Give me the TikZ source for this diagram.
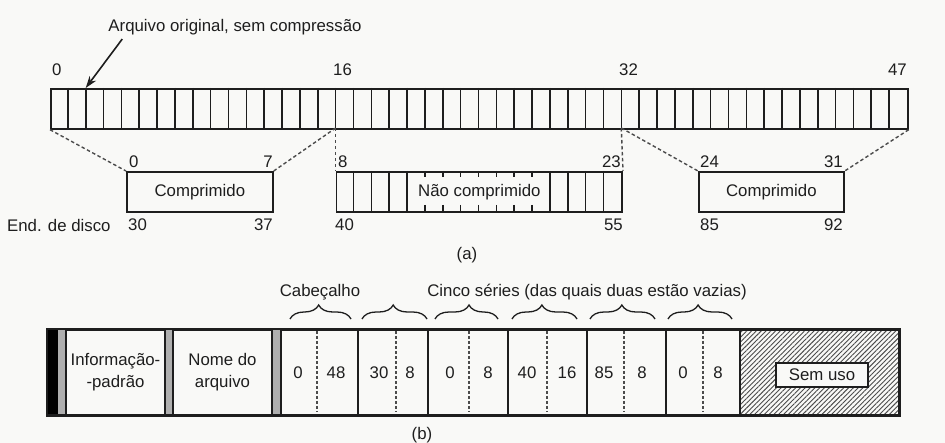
\documentclass[tikz,border=0pt]{standalone}
\usepackage{fontspec}
\setmainfont{Liberation Sans}
\usetikzlibrary{decorations.pathreplacing,patterns.meta,arrows.meta,calc}
\definecolor{bg}{RGB}{249,249,247}
\definecolor{ink}{RGB}{30,30,30}
\definecolor{bargray}{RGB}{175,175,175}
\definecolor{dashgray}{RGB}{75,75,75}
\begin{document}
\begin{tikzpicture}[x=1pt,y=-1pt,
  font=\fontsize{16.8}{21.5}\selectfont,
  lbl/.style={inner sep=0pt, text=ink},
  frame/.style={draw=ink, line width=1.7pt},
  boxnode/.style={draw=ink, line width=1.7pt, inner sep=0pt, minimum height=40pt, anchor=north west, text=ink},
  cellline/.style={draw=ink, line width=1.6pt},
  dconn/.style={draw=dashgray, line width=1.4pt, dash pattern=on 3.5pt off 2.5pt},
  ddiv/.style={draw=dashgray, line width=1.5pt, dash pattern=on 3pt off 2pt},
  bracestyle/.style={draw=ink, line width=1.3pt, decorate},
  arrowstyle/.style={draw=ink, line width=1.6pt, -{Stealth[length=12pt,width=8pt]}}
]
\useasboundingbox (0,0) rectangle (945,443);
\fill[bg] (0,0) rectangle (945,443);

% ---------- (a) ----------
\node[lbl] (title) at (235,27) {Arquivo original, sem compressão};
\node[boxnode, minimum width=857pt] (bar) at (50,88) {};
\foreach \i in {1,...,47} \draw[cellline] (50+\i*17.854,88) -- (50+\i*17.854,128);
\coordinate (t2) at (85.7,88);
\coordinate (b16) at (335.7,128);
\coordinate (b32) at (621.3,128);
\draw[arrowstyle] ($(title.south west)+(14,4)$) -- (t2);

\node[lbl, anchor=west] (n0) at (52,70) {0};
\node[lbl, anchor=west] (n16) at (333,70) {16};
\node[lbl, anchor=west] (n32) at (619,70) {32};
\node[lbl, anchor=east] (n47) at (907,70) {47};

\node[boxnode, minimum width=146pt] (comp1) at (126,171) {Comprimido};
\node[boxnode, minimum width=285.6pt] (unc) at (335.7,171) {Não comprimido};
\node[boxnode, minimum width=145pt] (comp2) at (698,171) {Comprimido};

\foreach \i in {1,2,3,4,12,13,14,15} \draw[cellline] (335.7+\i*17.85,171) -- (335.7+\i*17.85,211);
\foreach \i in {5,...,11} {
  \draw[cellline] (335.7+\i*17.85,171) -- (335.7+\i*17.85,177);
  \draw[cellline] (335.7+\i*17.85,205) -- (335.7+\i*17.85,211);
}

\draw[dconn] (bar.south west) -- (comp1.north west);
\draw[dconn] (b16) -- (comp1.north east);
\draw[dconn] (b16) -- (unc.north west);
\draw[dconn] (b32) -- (unc.north east);
\draw[dconn] (b32) -- (comp2.north west);
\draw[dconn] (bar.south east) -- (comp2.north east);

\node[lbl, anchor=west] (a0) at (129,162) {0};
\node[lbl, anchor=east] (a7) at (273,162) {7};
\node[lbl, anchor=west] (a30) at (128,225) {30};
\node[lbl, anchor=east] (a37) at (273,225) {37};
\node[lbl, anchor=west] (addr) at (7,225) {End. de disco};
\node[lbl, anchor=west] (a8) at (338,162) {8};
\node[lbl, anchor=east] (a23) at (621,162) {23};
\node[lbl, anchor=west] (a40) at (335,225) {40};
\node[lbl, anchor=east] (a55) at (623,225) {55};
\node[lbl, anchor=west] (a24) at (700,162) {24};
\node[lbl, anchor=east] (a31) at (843,162) {31};
\node[lbl, anchor=west] (a85) at (700,225) {85};
\node[lbl, anchor=east] (a92) at (843,225) {92};
\node[lbl] (capa) at (467,255) {(a)};

% ---------- (b) ----------
\fill[pattern={Lines[angle=45,distance=3.4pt,line width=0.9pt]}, pattern color=dashgray] (740,329) rectangle (898,414);
\node[boxnode, minimum width=851pt, minimum height=85pt] (rec) at (47,329) {};
\fill[black] (47,329) rectangle (58,414);
\fill[bargray] (58,329) rectangle (66,414);
\fill[bargray] (165,329) rectangle (173,414);
\fill[bargray] (272,329) rectangle (281,414);
\foreach \x in {66,165,173,272,281,358,428,508,587,666,740} \draw[cellline] (\x,329) -- (\x,414);
\draw[frame] (rec.north west) rectangle (rec.south east);
\foreach \x in {317,396,469,547,624,703} \draw[ddiv] (\x,331) -- (\x,412);

\node[lbl, align=center] (info) at (115.5,372) {Informação-\\-padrão};
\node[lbl, align=center] (fname) at (222.5,372) {Nome do\\arquivo};

\foreach \x/\t/\n in {298/0/v1, 336/48/v2, 379/30/v3, 410/8/v4, 450/0/v5, 488/8/v6, 527/40/v7, 567/16/v8, 604/85/v9, 642/8/v10, 683/0/v11, 718/8/v12}
  \node[lbl] (\n) at (\x,373) {\t};

\node[draw=ink, line width=1.6pt, fill=bg, minimum width=92pt, minimum height=24pt, inner sep=0pt, text=ink] (unused) at (822,375) {Sem uso};

\draw[bracestyle, decoration={brace, amplitude=14pt, aspect=0.47}] (290,319) -- (351,319);
\draw[bracestyle, decoration={brace, amplitude=14pt, aspect=0.48}] (362,319) -- (427,319);
\draw[bracestyle, decoration={brace, amplitude=14pt, aspect=0.54}] (435,319) -- (498,319);
\draw[bracestyle, decoration={brace, amplitude=14pt, aspect=0.46}] (512,319) -- (577,319);
\draw[bracestyle, decoration={brace, amplitude=14pt, aspect=0.49}] (590,319) -- (655,319);
\draw[bracestyle, decoration={brace, amplitude=14pt, aspect=0.47}] (668,319) -- (732,319);

\node[lbl] (head) at (320,292) {Cabeçalho};
\node[lbl] (runs) at (587,292) {Cinco séries (das quais duas estão vazias)};
\node[lbl] (capb) at (422,435) {(b)};
\end{tikzpicture}
\end{document}
